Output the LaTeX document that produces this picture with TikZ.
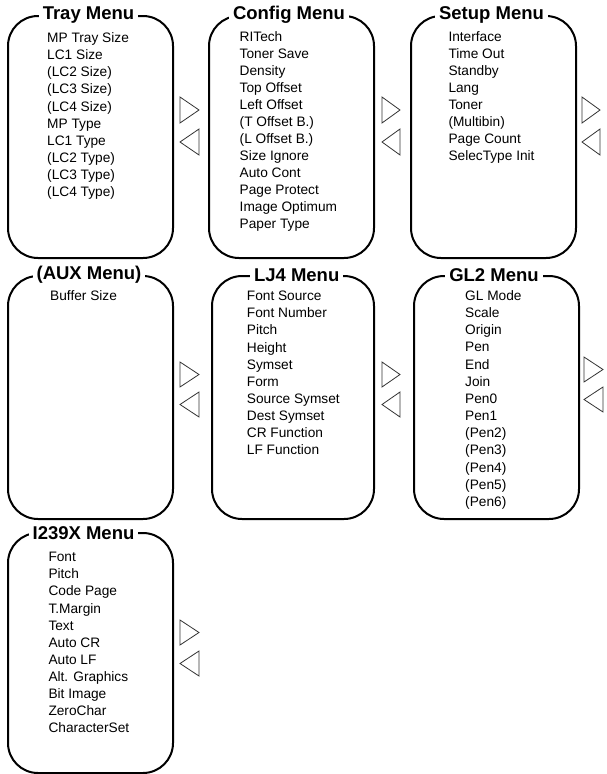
\documentclass[tikz,border=0pt]{standalone}
\usepackage{fontspec}
\setmainfont{Liberation Sans}
\begin{document}
\begin{tikzpicture}[x=1pt,y=-1pt,
  box/.style={draw=black, line width=2pt, rounded corners=30pt, anchor=north west, inner sep=0pt},
  ttl/.style={fill=white, inner xsep=4pt, inner ysep=1pt, font=\fontsize{18.5}{20}\selectfont\bfseries},
  item/.style={anchor=base west, inner sep=0pt, font=\fontsize{13.7}{16}\selectfont},
  tri/.style={draw=black!80, line width=0.8pt, line join=miter}]
\useasboundingbox (0,0) rectangle (606,774);

% boxes
\node[box, minimum width=165pt, minimum height=242pt] (tray) at (7,15) {};
\node[box, minimum width=165pt, minimum height=242pt] (config) at (208,15) {};
\node[box, minimum width=165pt, minimum height=242pt] (setup) at (410,15) {};
\node[box, minimum width=165pt, minimum height=243pt] (aux) at (7,275) {};
\node[box, minimum width=162pt, minimum height=243pt] (lj4) at (211,275) {};
\node[box, minimum width=165pt, minimum height=243pt] (gl2) at (413,275) {};
\node[box, minimum width=165pt, minimum height=240pt] (ibm) at (7,532) {};

% titles
\node[ttl] (trayT) at (88.5,15) {Tray Menu};
\node[ttl] (configT) at (289,15) {Config Menu};
\node[ttl] (setupT) at (491.5,15) {Setup Menu};
\node[ttl] (auxT) at (89,275) {(AUX Menu)};
\node[ttl] (lj4T) at (296.7,275) {LJ4 Menu};
\node[ttl] (gl2T) at (494,275) {GL2 Menu};
\node[ttl] (ibmT) at (83.5,533) {I239X Menu};

% items
\foreach \t [count=\i] in {MP Tray Size, LC1 Size, (LC2 Size), (LC3 Size), (LC4 Size), MP Type, LC1 Type, (LC2 Type), (LC3 Type), (LC4 Type)}
  \node[item] (tray\i) at (47,{42.5+(\i-1)*17.13}) {\t};
\foreach \t [count=\i] in {RITech, Toner Save, Density, Top Offset, Left Offset, (T Offset B.), (L Offset B.), Size Ignore, Auto Cont, Page Protect, Image Optimum, Paper Type}
  \node[item] (config\i) at (239.5,{41.7+(\i-1)*16.95}) {\t};
\foreach \t [count=\i] in {Interface, Time Out, Standby, Lang, Toner, (Multibin), Page Count, SelecType Init}
  \node[item] (setup\i) at (448.3,{41.7+(\i-1)*17.0}) {\t};
\node[item] (aux1) at (50,300.7) {Buffer Size};
\foreach \t [count=\i] in {Font Source, Font Number, Pitch, Height, Symset, Form, Source Symset, Dest Symset, CR Function, LF Function}
  \node[item] (lj4\i) at (246.7,{300.7+(\i-1)*17.1}) {\t};
\foreach \t [count=\i] in {GL Mode, Scale, Origin, Pen, End, Join, Pen0, Pen1, (Pen2), (Pen3), (Pen4), (Pen5), (Pen6)}
  \node[item] (gl2\i) at (465,{300.5+(\i-1)*17.15}) {\t};
\foreach \t [count=\i] in {Font, Pitch, Code Page, T.Margin, Text, Auto CR, Auto LF, Alt. Graphics, Bit Image, ZeroChar, CharacterSet}
  \node[item] (ibm\i) at (48.3,{561.7+(\i-1)*17.1}) {\t};

% triangles
\draw[tri] (180,97) -- (180,123) -- (199,110) -- cycle;
\draw[tri] (199,129) -- (199,155) -- (180,142) -- cycle;
\draw[tri] (382,97) -- (382,123) -- (400,110) -- cycle;
\draw[tri] (400,129) -- (400,155) -- (382,142) -- cycle;
\draw[tri] (582,97) -- (582,123) -- (600,110) -- cycle;
\draw[tri] (600,129) -- (600,155) -- (582,142) -- cycle;

\draw[tri] (180,362) -- (180,387) -- (199,374.5) -- cycle;
\draw[tri] (199,392) -- (199,417) -- (180,404.5) -- cycle;
\draw[tri] (382,362) -- (382,387) -- (400,374.5) -- cycle;
\draw[tri] (400,392) -- (400,417) -- (382,404.5) -- cycle;
\draw[tri] (584,357) -- (584,382) -- (603,369.5) -- cycle;
\draw[tri] (603,387) -- (603,412) -- (584,399.5) -- cycle;

\draw[tri] (180,620) -- (180,645) -- (199,632.5) -- cycle;
\draw[tri] (199,651) -- (199,676) -- (180,663.5) -- cycle;
\end{tikzpicture}
\end{document}
